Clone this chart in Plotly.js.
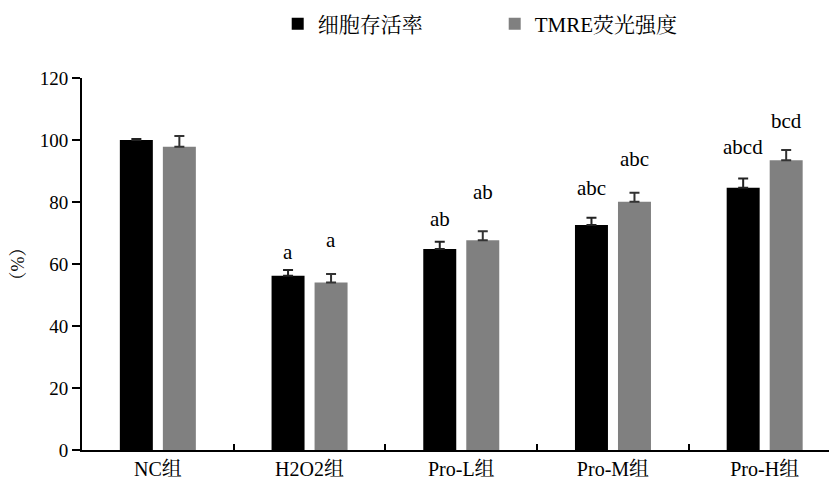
<!DOCTYPE html>
<html>
<head>
<meta charset="utf-8">
<script src="https://cdn.plot.ly/plotly-3.0.1.min.js"></script>
<style>html,body{margin:0;padding:0;background:#fff;}#chart{width:830px;height:486px;}</style>
</head>
<body>
<div id="chart"></div>
<script>
const categories = ['NC组', 'H2O2组', 'Pro-L组', 'Pro-M组', 'Pro-H组'];
const viability = [100, 56.2, 64.8, 72.6, 84.6];
const viabilityErr = [0.3, 1.9, 2.4, 2.3, 3.0];
const tmre = [97.8, 54.0, 67.7, 80.1, 93.5];
const tmreErr = [3.5, 2.8, 2.9, 2.9, 3.3];
const viabilityLabels = ['', 'a', 'ab', 'abc', 'abcd'];
const tmreLabels = ['', 'a', 'ab', 'abc', 'bcd'];
const yTicks = [0, 20, 40, 60, 80, 100, 120];

// label vertical offsets (pixels above error caps)
const viabilityLabelShift = [0, 18, 23, 30, 31];
const tmreLabelShift = [0, 34, 39, 34, 29];

const FONT = 'Liberation Serif, "Noto Serif CJK SC", "Noto Sans CJK SC", serif';

const zeros = categories.map(() => 0);

const traces = [
  {
    type: 'bar', name: '细胞存活率', x: categories, y: viability,
    marker: {color: '#000000', line: {color: '#000000', width: 0}},
    error_y: {type: 'data', symmetric: false, array: viabilityErr, arrayminus: zeros, visible: true, color: '#222222', thickness: 2, width: 5}
  },
  {
    type: 'bar', name: 'TMRE荧光强度', x: categories, y: tmre,
    marker: {color: '#808080', line: {color: '#808080', width: 0}},
    error_y: {type: 'data', symmetric: false, array: tmreErr, arrayminus: zeros, visible: true, color: '#333333', thickness: 2, width: 5}
  }
];

const annotations = [];
categories.forEach((c, i) => {
  if (viabilityLabels[i]) annotations.push({
    x: c, y: viability[i] + viabilityErr[i], xref: 'x', yref: 'y',
    text: viabilityLabels[i], showarrow: false, xshift: -21.5, yshift: viabilityLabelShift[i],
    yanchor: 'middle', font: {family: FONT, size: 21, color: '#000'}
  });
  if (tmreLabels[i]) annotations.push({
    x: c, y: tmre[i] + tmreErr[i], xref: 'x', yref: 'y',
    text: tmreLabels[i], showarrow: false, xshift: 21.5, yshift: tmreLabelShift[i],
    yanchor: 'middle', font: {family: FONT, size: 21, color: '#000'}
  });
});

const layout = {
  width: 830, height: 486,
  margin: {l: 82, r: 1, t: 78, b: 36, pad: 0},
  paper_bgcolor: '#fff', plot_bgcolor: '#fff',
  font: {family: FONT, size: 18, color: '#000'},
  barmode: 'group', bargap: 0.433, bargroupgap: 0.233,
  showlegend: true,
  legend: {
    orientation: 'h', x: 0.262, xanchor: 'left', y: 1.145, yanchor: 'middle',
    font: {family: FONT, size: 21, color: '#000'},
    entrywidth: 172, entrywidthmode: 'pixels', itemsizing: 'constant'
  },
  xaxis: {
    type: 'category', range: [-0.5, 4.424],
    showline: true, linecolor: '#000', linewidth: 2,
    ticks: 'inside', tickson: 'boundaries', ticklen: 6, tickwidth: 2, tickcolor: '#000',
    showgrid: false, zeroline: false,
    tickfont: {family: FONT, size: 20, color: '#000'}
  },
  yaxis: {
    range: [0, 120], tickvals: yTicks, ticktext: yTicks.map(String),
    showline: true, linecolor: '#000', linewidth: 2,
    ticks: 'outside', ticklen: 8, tickwidth: 2, tickcolor: '#000',
    showgrid: false, zeroline: false,
    tickfont: {family: FONT, size: 19, color: '#000'},
    title: {text: '（%）', font: {family: FONT, size: 18, color: '#000'}, standoff: 10}
  },
  annotations: annotations
};

Plotly.newPlot('chart', traces, layout, {displayModeBar: false, staticPlot: true});
</script>
</body>
</html>
